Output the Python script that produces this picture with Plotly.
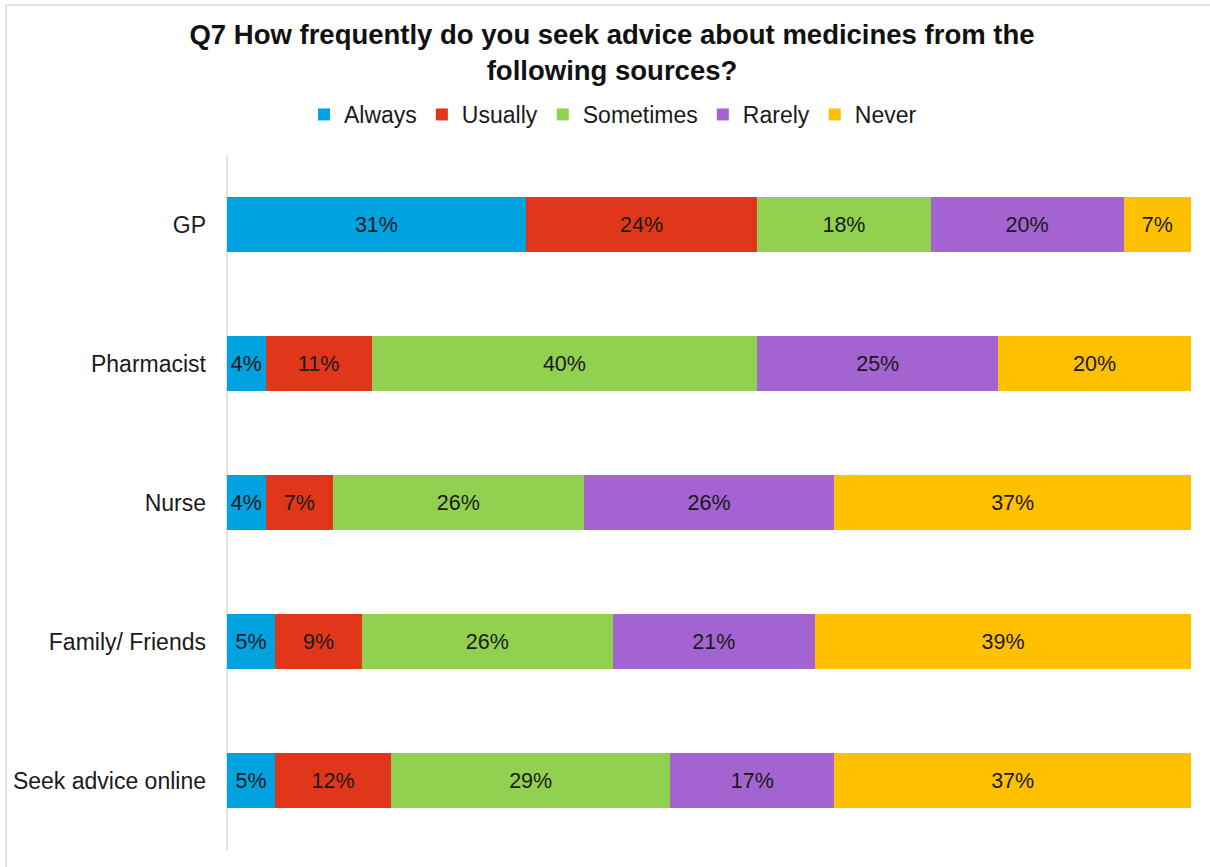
import plotly.graph_objects as go

# Survey: how often respondents seek advice about medicines, by source (%)
sources = ["GP", "Pharmacist", "Nurse", "Family/ Friends", "Seek advice online"]
always = [31, 4, 4, 5, 5]
usually = [24, 11, 7, 9, 12]
sometimes = [18, 40, 26, 26, 29]
rarely = [20, 25, 26, 21, 17]
never = [7, 20, 37, 39, 37]

series = [
    ("Always", always, "#00A3E0"),
    ("Usually", usually, "#E0361A"),
    ("Sometimes", sometimes, "#92D050"),
    ("Rarely", rarely, "#A363D0"),
    ("Never", never, "#FFC000"),
]

FONT = "Liberation Sans, Arial, sans-serif"

fig = go.Figure()
for name, vals, color in series:
    fig.add_trace(go.Bar(
        name=name,
        y=sources,
        x=vals,
        orientation="h",
        marker=dict(color=color, line=dict(width=0)),
        text=[f"{v}%" for v in vals],
        textposition="inside",
        insidetextanchor="middle",
        textangle=0,
        textfont=dict(family=FONT, size=21.5, color="#1a1a1a"),
        constraintext="none",
        cliponaxis=False,
        hoverinfo="skip",
    ))

L, R, T, B = 227, 19, 155, 17
W, H = 1210, 867
pw, ph = W - L - R, H - T - B

def px_x(px):
    return (px - L) / pw

def px_y(py):
    return (H - B - py) / ph

fig.update_layout(
    width=W,
    height=H,
    barmode="stack",
    bargap=0.61,
    margin=dict(l=L, r=R, t=T, b=B),
    paper_bgcolor="white",
    plot_bgcolor="white",
    uniformtext=dict(minsize=21, mode="show"),
    title=dict(
        text="<b>Q7 How frequently do you seek advice about medicines from the<br>following sources?</b>",
        x=612 / W,
        xanchor="center",
        y=1 - 44 / H,
        yanchor="top",
        font=dict(family=FONT, size=27.5, color="#111111"),
    ),
    legend=dict(
        orientation="h",
        x=px_x(613),
        xanchor="center",
        y=px_y(93),
        yanchor="top",
        font=dict(family=FONT, size=23, color="#1a1a1a"),
        itemwidth=30,
        tracegroupgap=0,
        traceorder="normal",
    ),
    xaxis=dict(
        range=[0, 100],
        showgrid=False,
        zeroline=False,
        showticklabels=False,
        showline=False,
        fixedrange=True,
    ),
    yaxis=dict(
        autorange="reversed",
        showgrid=False,
        zeroline=False,
        showline=False,
        ticks="",
        ticklabelstandoff=20,
        tickfont=dict(family=FONT, size=23, color="#1a1a1a"),
        fixedrange=True,
    ),
    shapes=[
        # category axis line
        dict(type="line", xref="paper", yref="paper",
             x0=0, x1=0, y0=0, y1=1,
             line=dict(color="#D9D9D9", width=1.5), layer="below"),
        # outer chart-area frame (top and left edges)
        dict(type="line", xref="paper", yref="paper",
             x0=px_x(6), x1=px_x(1215), y0=px_y(5), y1=px_y(5),
             line=dict(color="#D9D9D9", width=1.5)),
        dict(type="line", xref="paper", yref="paper",
             x0=px_x(6), x1=px_x(6), y0=px_y(5), y1=px_y(870),
             line=dict(color="#D9D9D9", width=1.5)),
    ],
)

fig.write_html("out.html")
